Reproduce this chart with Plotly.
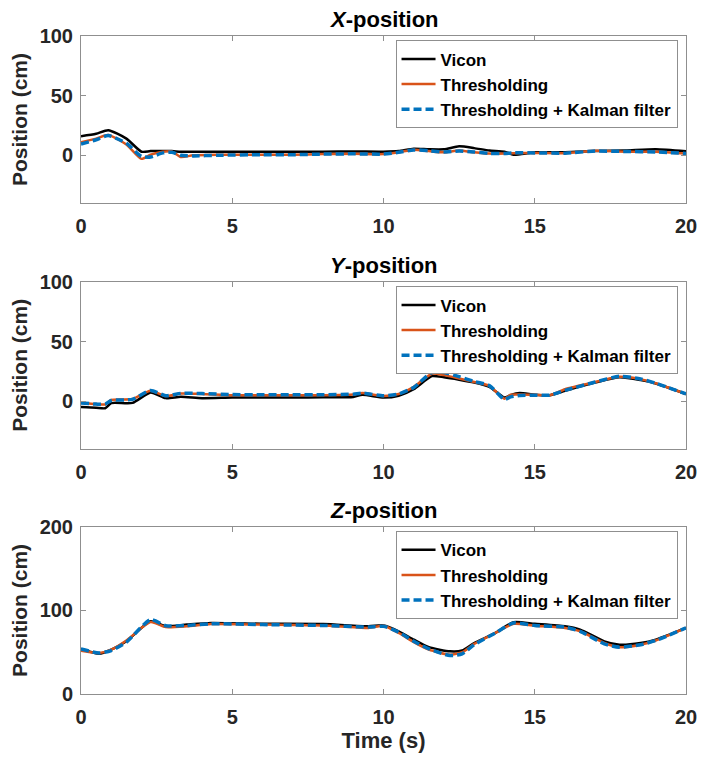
import plotly.graph_objects as go

# ---------------- data ----------------
tx = [0, 0.5, 0.9, 1.5, 2.0, 2.3, 2.7, 3.0, 3.3, 3.7, 4.5, 6, 7, 8, 9, 10, 10.5, 11,
      11.5, 12, 12.5, 13, 13.5, 14, 14.3, 15, 16, 17, 18, 19, 20]
x_vicon = [16, 18, 21, 14, 3, 3.5, 3.5, 3.5, 3, 3, 3, 3, 3, 3, 3.2, 3, 3.5, 5.5,
           5, 5, 7.5, 6, 4, 3, 0.5, 2.5, 2.5, 3.5, 4, 5, 3.3]
x_thresh = [11, 14, 17, 9, -3, 0.5, 3, 3.3, -1.5, 0, 0.5, 0.5, 0.5, 1, 1.2, 1, 2.5, 4.7,
            3.5, 2.5, 4, 2.5, 1.4, 1.5, 1.8, 2, 1.7, 3.8, 3, 3, 1.4]
x_kalman = [9.5, 13, 16.5, 10, -1, -1.5, 2, 2.5, 0, -0.5, 0, 0.5, 0.5, 1, 1.2, 1, 2.5, 4.5,
            3.8, 2.8, 3.5, 2.8, 1.5, 1.5, 2, 2, 1.8, 3.5, 3.2, 2.8, 1.5]

ty = [0, 0.5, 0.8, 1.0, 1.7, 2.3, 2.8, 3.3, 4, 5, 6, 7, 8, 9, 9.3, 10, 10.5, 11, 11.6,
      12, 12.5, 13, 13.5, 14, 14.2, 14.5, 15, 15.5, 16, 17, 17.8, 18.5, 19, 20]
y_vicon = [-5, -5.5, -6, -1.7, -1.5, 7.3, 2.5, 3.6, 2.5, 3, 3, 3, 3.2, 3.5, 5.3, 3, 4.5, 10, 21,
           20, 18, 15.6, 12, 3, 5, 6.7, 5.3, 5, 8.7, 15.6, 20, 17.6, 14.8, 6]
y_thresh = [-1.4, -2.5, -2.8, 1, 1.7, 8.7, 4.2, 6.4, 6, 5, 5, 5, 5, 5.5, 6.7, 4.2, 6, 12, 23,
            21.8, 19, 16, 12.8, 2, 5.3, 5.5, 5.3, 5, 10, 16, 20.4, 18.4, 15, 6]
y_kalman = [-1.5, -2.5, -2.5, 0.5, 1.5, 9, 4.5, 6.5, 6.3, 5.5, 5.3, 5.3, 5.3, 5.8, 6.7, 4.5, 6, 11.5, 24,
            24, 20.5, 16.5, 13, 1.5, 3.5, 4.8, 5, 5, 9, 16, 20.8, 18.6, 15, 6]

tz = [0, 0.6, 1, 1.5, 2.3, 2.8, 3.5, 4.3, 6, 8, 9.5, 10, 10.5, 11, 11.5, 12.2, 12.6, 13,
      13.7, 14.3, 15, 16, 16.5, 17.3, 17.8, 18.5, 19, 20]
z_vicon = [53.8, 48, 53, 63, 87, 81, 83, 85, 84, 83.7, 81, 82, 75, 65, 56, 51, 52, 61,
           73, 86, 84, 81, 77, 63, 59, 61, 65, 79]
z_thresh = [51.8, 49, 53, 64, 86, 80, 81, 83.7, 83, 82, 79, 81.7, 73, 62, 53, 47, 50, 60,
            73, 84, 81.7, 79, 75, 61, 56, 59, 64, 79]
z_kalman = [53.8, 49, 52, 62, 89, 81.7, 82, 84, 83, 82, 80, 81, 74, 63, 54, 46, 48, 59,
            73, 85, 82, 80, 75, 60, 56, 59, 64, 79]

series_names = ["Vicon", "Thresholding", "Thresholding + Kalman filter"]
panel_titles = ["<i>X</i>-position", "<i>Y</i>-position", "<i>Z</i>-position"]
x_ticks = [0, 5, 10, 15, 20]
y_ticks = [[0, 50, 100], [0, 50, 100], [0, 100, 200]]
y_ranges = [[-40, 100], [-40, 100], [0, 200]]

panels = [
    (tx, [x_vicon, x_thresh, x_kalman]),
    (ty, [y_vicon, y_thresh, y_kalman]),
    (tz, [z_vicon, z_thresh, z_kalman]),
]

# ---------------- styling ----------------
FONT = "Liberation Sans, Arial, Helvetica, sans-serif"
TXT = "#262626"
AX = "#8f8f8f"
colors = ["#000000", "#D95319", "#0072BD"]
widths = [2.5, 2.5, 3.5]
dashes = ["solid", "solid", "8px,4px"]

domains = [[0.7462, 1.0], [0.3727, 0.6262], [0.0, 0.2541]]
legend_keys = ["legend", "legend2", "legend3"]

fig = go.Figure()
for i, (t, ys) in enumerate(panels):
    xa = "x" if i == 0 else f"x{i+1}"
    ya = "y" if i == 0 else f"y{i+1}"
    for j, vals in enumerate(ys):
        fig.add_trace(go.Scatter(
            x=t, y=vals, mode="lines", name=series_names[j],
            line=dict(color=colors[j], width=widths[j], dash=dashes[j],
                      shape="spline", smoothing=0.6),
            xaxis=xa, yaxis=ya, legend=legend_keys[i],
        ))

layout = dict(
    width=712, height=759,
    margin=dict(l=81, r=26, t=36, b=63),
    paper_bgcolor="white", plot_bgcolor="white",
    font=dict(family=FONT, color=TXT, size=20),
    annotations=[],
)
for i in range(3):
    sfx = "" if i == 0 else str(i + 1)
    axis_common = dict(
        showline=True, linecolor=AX, linewidth=1, mirror="ticks",
        ticks="inside", ticklen=5, tickcolor=AX, tickwidth=1,
        showgrid=False, zeroline=False,
        tickfont=dict(family=FONT, size=20, color=TXT, weight="bold"),
    )
    layout["xaxis" + sfx] = dict(
        axis_common, domain=[0, 1], range=[0, 20], tickvals=x_ticks,
        anchor="y" + sfx, ticklabelstandoff=5,
        title=dict(text="<b>Time (s)</b>" if i == 2 else "",
                   font=dict(size=22, family=FONT, color=TXT), standoff=4),
    )
    layout["yaxis" + sfx] = dict(
        axis_common, domain=domains[i], range=y_ranges[i], tickvals=y_ticks[i],
        anchor="x" + sfx, ticklabelstandoff=3,
        title=dict(text="<b>Position (cm)</b>",
                   font=dict(size=21, family=FONT, color=TXT), standoff=6),
    )
    layout[legend_keys[i]] = dict(
        x=0.986, xanchor="right", y=domains[i][1] - 0.0068, yanchor="top",
        bgcolor="white", bordercolor=AX, borderwidth=1,
        font=dict(family=FONT, size=17, color="#000000", weight="bold"),
        tracegroupgap=0, itemwidth=34,
    )
    layout["annotations"].append(dict(
        text="<b>" + panel_titles[i] + "</b>", xref="paper", yref="paper",
        x=0.5, y=domains[i][1], xanchor="center", yanchor="bottom", yshift=2,
        showarrow=False, font=dict(family=FONT, size=22, color="#000000"),
    ))

fig.update_layout(**layout)
fig.write_html("out.html")
